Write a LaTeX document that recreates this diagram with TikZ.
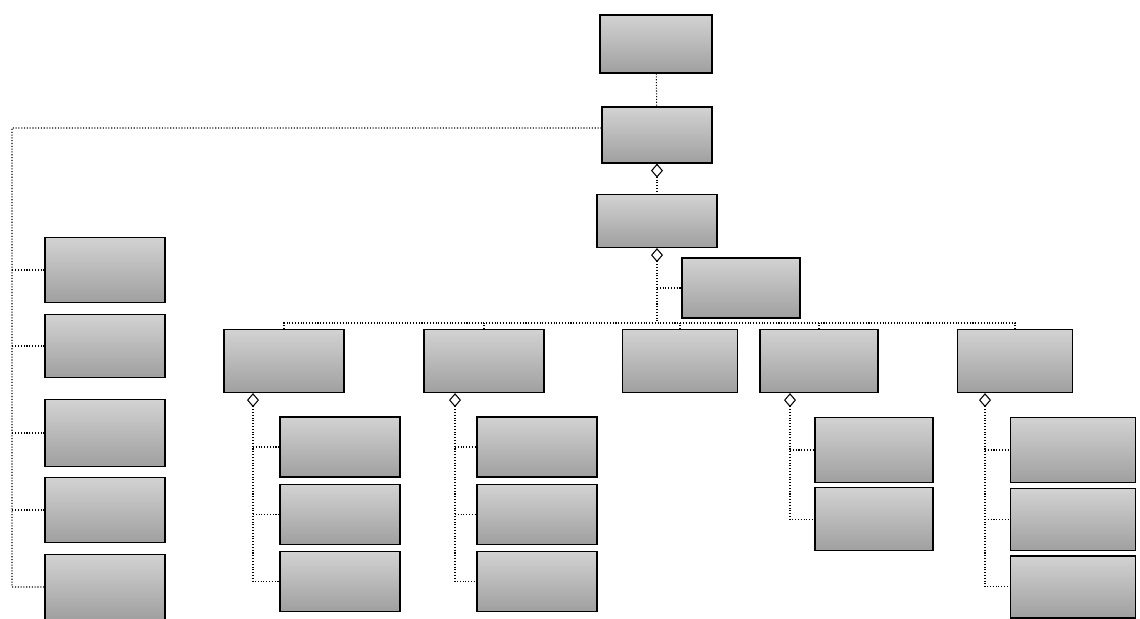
\documentclass[tikz,border=0pt]{standalone}
\usepackage{tikz}
\usetikzlibrary{arrows.meta,positioning}
\tikzset{
  cls/.style = {rectangle, draw, line width=0.7pt, top color=gray!35, bottom color=gray!75,
    minimum width=2.4cm, minimum height=1.22cm, inner sep=0pt},
  wide/.style = {cls, minimum width=2.5cm},
  link/.style = {line width=0.6pt, densely dotted},
  agg/.style = {line width=0.6pt, densely dotted, {Diamond[open, length=2.8mm, width=2.4mm]}-}
}
\begin{document}
\begin{tikzpicture}[x=0.02cm, y=-0.02cm, node distance=0.12cm and 0.5cm]
\useasboundingbox (0,0) rectangle (1140,619);

% top of the tree
\node[cls, minimum width=2.24cm, minimum height=1.16cm] (root) at (656,44) {};
\node[cls, minimum width=2.2cm, minimum height=1.12cm] (model) at (657,135) {};
\node[cls, minimum height=1.06cm] (core) at (657,221) {};
\node[cls, minimum width=2.36cm, minimum height=1.2cm] (extra) at (741,288) {};

% first row
\node[cls, minimum height=1.26cm] (grpA) at (284,361) {};
\node[cls, minimum height=1.26cm] (grpB) at (484,361) {};
\node[cls, minimum width=2.3cm, minimum height=1.26cm] (grpC) at (680,361) {};
\node[cls, minimum width=2.36cm, minimum height=1.26cm] (grpD) at (819,361) {};
\node[cls, minimum width=2.3cm, minimum height=1.26cm] (grpE) at (1015,361) {};

% children of the first row
\node[cls, minimum height=1.2cm] (a1) at (340,447) {};
\node[cls, minimum height=1.2cm, below=of a1] (a2) {};
\node[cls, minimum height=1.2cm, below=of a2] (a3) {};

\node[cls, minimum height=1.2cm] (b1) at (537,447) {};
\node[cls, minimum height=1.2cm, below=of b1] (b2) {};
\node[cls, minimum height=1.2cm, below=of b2] (b3) {};

\node[cls, minimum width=2.36cm, minimum height=1.3cm] (d1) at (874,450) {};
\node[cls, minimum width=2.36cm, minimum height=1.26cm, below=0.08cm of d1] (d2) {};

\node[wide, minimum height=1.3cm] (e1) at (1073,450) {};
\node[wide, minimum height=1.24cm, below=0.1cm of e1] (e2) {};
\node[wide, minimum height=1.24cm, below=0.08cm of e2] (e3) {};

% left column
\node[cls, minimum height=1.3cm] (l1) at (105,270) {};
\node[cls, minimum height=1.26cm] (l2) at (105,346) {};
\node[cls, minimum height=1.34cm] (l3) at (105,433) {};
\node[cls, minimum height=1.3cm] (l4) at (105,510) {};
\node[cls, minimum height=1.3cm] (l5) at (105,587) {};

\coordinate (bus) at (657,323);
\coordinate (lcol) at (12,128);

% connectors
\draw[link] (root) -- (model);
\draw[agg] (model.south) -- (core.north);
\draw[agg] (core.south) -- (core.south |- bus);
\draw[link] (core.south |- extra.west) -- (extra.west);
\draw[link] (grpA.north) |- (bus) -| (grpE.north);
\foreach \g in {grpB,grpC,grpD}
  \draw[link] (\g.north) -- (\g.north |- bus);

\draw[agg] ([xshift=-0.62cm]grpA.south) |- (a3.west);
\foreach \c in {a1,a2}
  \draw[link] ([xshift=-0.62cm]grpA.south |- \c.west) -- (\c.west);

\draw[agg] ([xshift=-0.58cm]grpB.south) |- (b3.west);
\foreach \c in {b1,b2}
  \draw[link] ([xshift=-0.58cm]grpB.south |- \c.west) -- (\c.west);

\draw[agg] ([xshift=-0.58cm]grpD.south) |- (d2.west);
\draw[link] ([xshift=-0.58cm]grpD.south |- d1.west) -- (d1.west);

\draw[agg] ([xshift=-0.6cm]grpE.south) |- (e3.west);
\foreach \c in {e1,e2}
  \draw[link] ([xshift=-0.6cm]grpE.south |- \c.west) -- (\c.west);

\draw[link] ([yshift=0.14cm]model.west) -- (lcol) |- (l5.west);
\foreach \c in {l1,l2,l3,l4}
  \draw[link] (\c.west) -- (\c.west -| lcol);

\end{tikzpicture}
\end{document}
